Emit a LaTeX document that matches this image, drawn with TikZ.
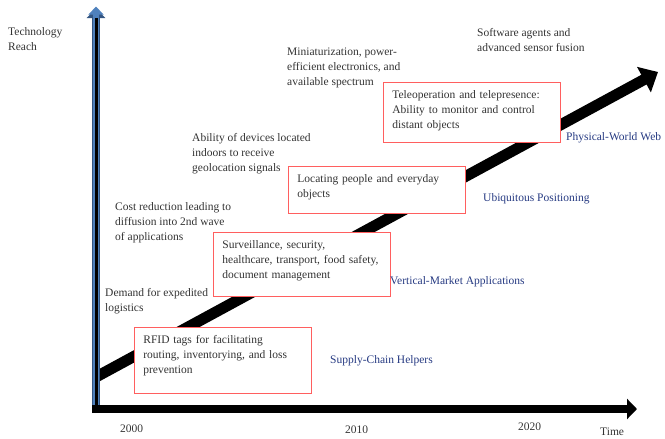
\documentclass[tikz,border=0pt]{standalone}
\usepackage{fontspec}
\setmainfont{Liberation Serif}
\usetikzlibrary{arrows.meta}
\definecolor{axisblue}{RGB}{79,129,189}
\definecolor{axisedge}{RGB}{52,86,130}
\definecolor{phaseblue}{RGB}{38,58,130}
\definecolor{boxred}{RGB}{255,95,95}
\begin{document}
\begin{tikzpicture}[x=1pt, y=-1pt, font=\fontsize{11.5}{15}\selectfont,
  note/.style={anchor=north west, inner sep=0pt, align=left, text=black!80},
  phase/.style={anchor=north west, inner sep=0pt, text=phaseblue},
  app/.style={rectangle, draw=boxred, fill=white, line width=0.8pt, anchor=north west, inner xsep=9pt, inner ysep=8pt, text width=159pt, align=left, text=black!80}]
  \useasboundingbox (0,0) rectangle (665,439);
  \coordinate (trendstart) at (96,377);
  \coordinate (trendend) at (658,72);
  \coordinate (origin) at (96,413);
  \coordinate (ytip) at (96,8);
  \coordinate (ytop) at (96,18);
  \coordinate (xstart) at (92,409);
  \coordinate (xend) at (637,409);
  \draw[line width=11pt, -{Triangle[length=16pt,width=28pt]}] (trendstart) -- (trendend);
  \draw[axisedge, line width=8pt, -{Triangle[length=10pt,width=18pt]}] (origin) -- (ytip);
  \draw[axisblue, line width=6pt, -{Triangle[length=8pt,width=14.5pt]}] (origin) -- ([yshift=1.5pt]ytip);
  \draw[line width=3pt] (origin) -- (ytop);
  \draw[line width=8pt, -{Triangle[length=10pt,width=20pt]}] (xstart) -- (xend);
  \node[note] (tech) at (8,27) {Technology\\Reach};
  \node[note] (demand) at (105,288) {Demand for expedited\\logistics};
  \node[note] (cost) at (115,202) {Cost reduction leading to\\diffusion into 2nd wave\\of applications};
  \node[note] (ability) at (192,133) {Ability of devices located\\indoors to receive\\geolocation signals};
  \node[note] (mini) at (287,48) {Miniaturization, power-\\efficient electronics, and\\available spectrum};
  \node[note] (software) at (477,28) {Software agents and\\advanced sensor fusion};
  \node[app, text depth=42pt] (rfid) at (134,327) {RFID tags for facilitating\\routing, inventorying, and loss\\prevention};
  \node[app, text depth=40pt] (surv) at (213,232) {Surveillance, security,\\healthcare, transport, food safety,\\document management};
  \node[app, text depth=23pt] (locating) at (288,166) {Locating people and everyday\\objects};
  \node[app, text depth=36pt] (teleop) at (383,82) {Teleoperation and telepresence:\\Ability to monitor and control\\distant objects};
  \node[phase] (supply) at (330,355) {Supply-Chain Helpers};
  \node[phase] (vertical) at (390,276) {Vertical-Market Applications};
  \node[phase] (ubiq) at (483,193) {Ubiquitous Positioning};
  \node[phase] (physweb) at (566,132) {Physical-World Web};
  \node[note] (y2000) at (120,425) {2000};
  \node[note] (y2010) at (345,426) {2010};
  \node[note] (y2020) at (518,423) {2020};
  \node[note] (time) at (600,428) {Time};
\end{tikzpicture}
\end{document}
